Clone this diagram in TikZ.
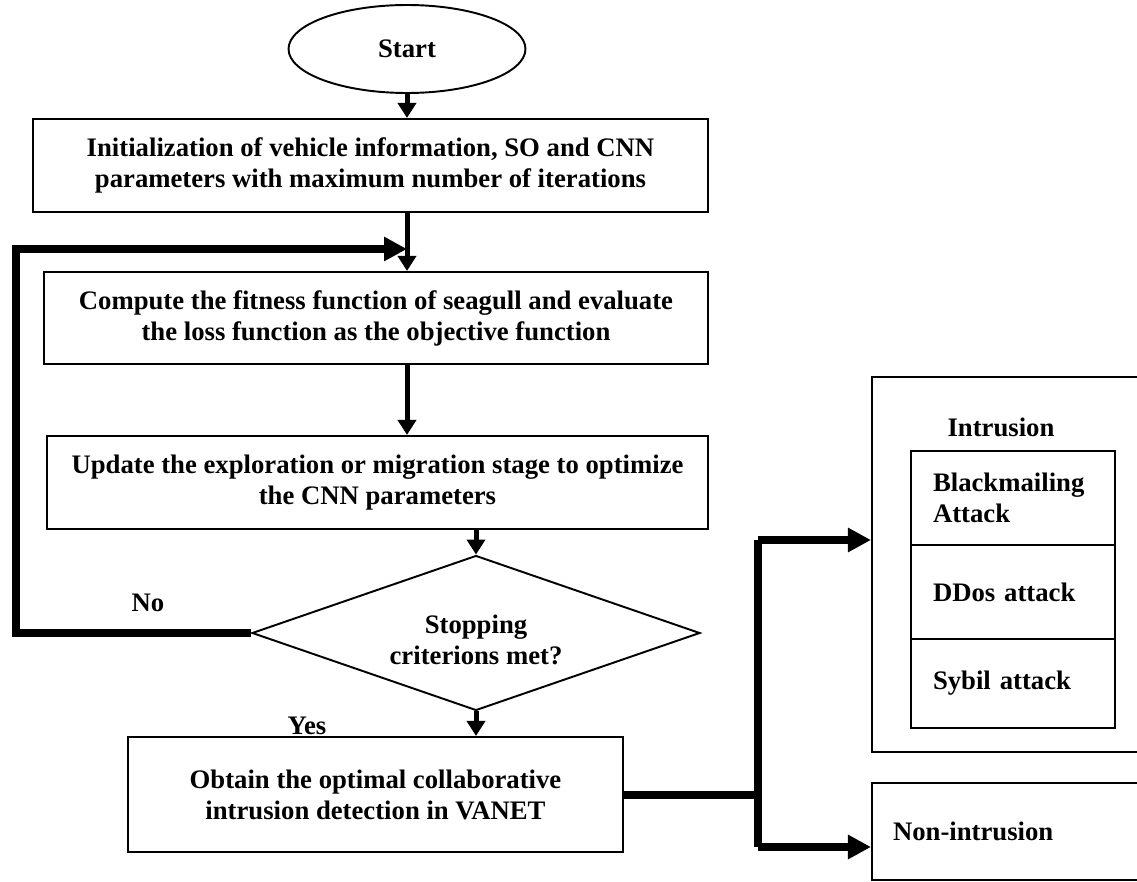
\documentclass[tikz,border=0pt]{standalone}
\usepackage{fontspec}
\setmainfont{Liberation Serif}
\usetikzlibrary{shapes.geometric,arrows.meta}
\newcommand{\txtfont}{\bfseries\fontsize{15.2}{17.6}\selectfont}
\newcommand{\cellwd}{4.08cm}
\tikzset{box/.style={rectangle, draw, line width=1.2pt, align=center, inner sep=0pt, font=\txtfont}}
\tikzset{terminal/.style={ellipse, draw, line width=1.1pt, minimum width=4.74cm, minimum height=1.76cm, font=\txtfont}}
\tikzset{decision/.style={diamond, draw, line width=1.1pt, aspect=2.9, minimum width=8.96cm, minimum height=3.1cm, inner sep=0pt, align=center, font=\txtfont}}
\tikzset{cell/.style={box, text width=\cellwd-0.88cm, align=left, inner xsep=0.44cm}}
\tikzset{lbl/.style={font=\txtfont, inner sep=0pt}}
\tikzset{flow/.style={-{Triangle[length=0.3cm,width=0.36cm]}, line width=0.1cm}}
\tikzset{loopline/.style={line width=0.16cm}}

\begin{document}
\begin{tikzpicture}[x=0.02cm,y=-0.02cm]

 \clip (0,0) rectangle (1137,882);

 % main column
 \node[terminal] (start) at (407,49) {Start};
 \node[box,minimum width=13.5cm,minimum height=1.86cm] (init) at (370.5,165.5) {Initialization of vehicle information, SO and CNN\\parameters with maximum number of iterations};
 \node[box,minimum width=13.28cm,minimum height=1.84cm] (fit) at (376,318) {Compute the fitness function of seagull and evaluate\\the loss function as the objective function};
 \node[box,minimum width=13.22cm,minimum height=1.86cm] (upd) at (377.5,482.5) {Update the exploration or migration stage to optimize\\the CNN parameters};
 \node[decision] (stop) at (476,633) {\raisebox{-0.33cm}[0pt][0pt]{\begin{tabular}{@{}c@{}}Stopping\\criterions met?\end{tabular}}};
 \node[box,minimum width=9.9cm,minimum height=2.3cm] (obt) at (375.5,794.5) {Obtain the optimal collaborative\\intrusion detection in VANET};

 \node[lbl] (no) at (148,603) {No};
 \node[lbl] (yes) at (307,726) {Yes};

 % outcome boxes
 \node[box,minimum width=5.56cm,minimum height=7.5cm] (intr) at (1011,564.5) {};
 \node[lbl] (intrlbl) at (1001,427) {Intrusion};
 \node[cell,minimum height=1.88cm] (bm) at (1013,498) {Blackmailing\\Attack};
 \node[cell,minimum height=1.88cm] (dd) at (1013,592) {DDos attack};
 \node[cell,minimum height=1.78cm] (sy) at (1013,683.5) {Sybil attack};
 \node[box,minimum width=5.56cm,minimum height=1.94cm,text width=4.72cm,align=left,inner xsep=0.42cm] (nonint) at (1011,831.5) {Non-intrusion};

 \coordinate (join) at (407,249);
 \coordinate (lc) at (16,633);
 \coordinate (brtop) at (758,540);
 \coordinate (brbot) at (758,847);

 \draw[flow] (start.south) -- (start.south |- init.north);
 \draw[flow] (init.south -| start.south) -- (start.south |- fit.north);
 \draw[flow] (fit.south -| start.south) -- (start.south |- upd.north);
 \draw[flow] (upd.south -| stop.north) -- (stop.north);
 \draw[flow] (stop.south) -- (stop.south |- obt.north);

 % loop back when not met
 \draw[loopline] (stop.west) -- (lc) |- ([xshift=-20]join);
 \draw[loopline,-{Triangle[length=0.46cm,width=0.46cm]}] ([xshift=-30]join) -- (join);

 % branch to the outcomes
 \draw[loopline] (obt.east) -| (brtop);
 \draw[loopline,-{Triangle[length=0.46cm,width=0.46cm]}] (brtop) -- (brtop -| intr.west);
 \draw[loopline] (brtop) -- (brbot);
 \draw[loopline,-{Triangle[length=0.46cm,width=0.46cm]}] (brbot) -- (brbot -| nonint.west);

\end{tikzpicture}
\end{document}
